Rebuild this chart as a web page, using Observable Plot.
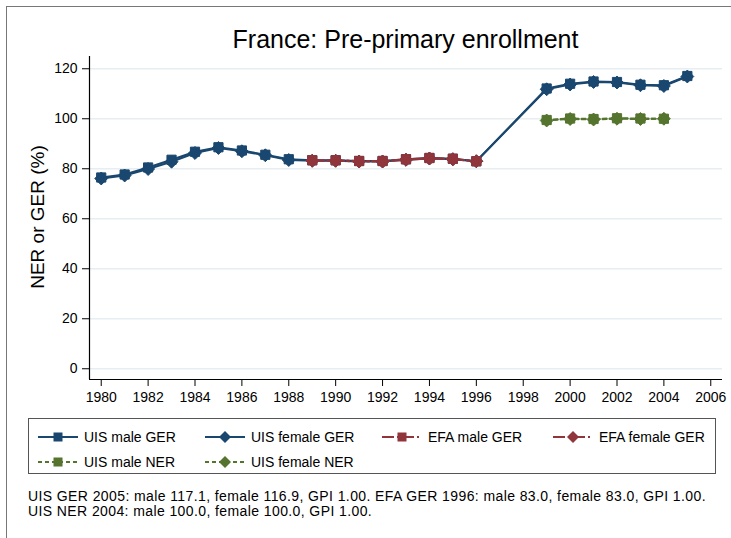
<!DOCTYPE html>
<html>
<head>
<meta charset="utf-8">
<script src="https://cdn.jsdelivr.net/npm/d3@7"></script>
<script src="https://cdn.jsdelivr.net/npm/@observablehq/plot@0.6"></script>
<style>
  html, body { margin: 0; padding: 0; background: #fff; }
  body { width: 731px; height: 538px; position: relative; overflow: hidden;
         font-family: "Liberation Sans", Arial, Helvetica, sans-serif; color: #000; }
  #frame { position: absolute; left: 6px; top: 6px; width: 800px; height: 600px;
           border-left: 1px solid #777; border-top: 1px solid #777; }
  #title { position: absolute; left: 89px; width: 633px; top: 24px; text-align: center;
           font-size: 25px; line-height: 30px; }
  #ylabel { position: absolute; left: 38px; top: 217px; transform: translate(-50%, -50%) rotate(-90deg);
            font-size: 19px; white-space: nowrap; }
  #chart { position: absolute; left: 0; top: 50px; }
  #legend { position: absolute; left: 28px; top: 418px; width: 688px; height: 56px;
            border: 1px solid #555; box-sizing: border-box; }
  .item { position: absolute; height: 16px; font-size: 14px; line-height: 16px; white-space: nowrap; }
  .item svg { position: absolute; left: 0; top: 2px; }
  .item span { position: absolute; left: 46px; top: 0; }
  #caption { position: absolute; left: 28px; top: 489px; font-size: 14px; line-height: 15px;
             letter-spacing: 0.4px; white-space: nowrap; }
</style>
</head>
<body>
<div id="frame"></div>
<div id="title">France: Pre-primary enrollment</div>
<div id="ylabel">NER or GER (%)</div>
<div id="chart"></div>
<div id="legend"></div>
<div id="caption">UIS GER 2005: male 117.1, female 116.9, GPI 1.00. EFA GER 1996: male 83.0, female 83.0, GPI 1.00.<br>UIS NER 2004: male 100.0, female 100.0, GPI 1.00.</div>
<script>
// ---- data ----
const uisYears = [1980,1981,1982,1983,1984,1985,1986,1987,1988,1989,1990,1991,1992,1993,1994,1995,1996,1999,2000,2001,2002,2003,2004,2005];
const uisMaleGER   = [76.5,77.7,80.5,83.6,86.8,88.6,87.3,85.6,83.8,83.4,83.4,83.1,83.1,83.8,84.3,84.0,83.0,112.1,114.0,114.9,114.7,113.6,113.4,117.1];
const uisFemaleGER = [76.1,77.3,79.9,82.8,86.3,88.3,87.0,85.4,83.5,83.2,83.2,82.9,82.9,83.6,84.1,83.8,83.0,111.8,113.7,114.7,114.5,113.4,113.1,116.9];
const efaYears = [1989,1990,1991,1992,1993,1994,1995,1996];
const efaMaleGER   = [83.4,83.4,83.1,83.1,83.8,84.3,84.0,83.0];
const efaFemaleGER = [83.2,83.2,82.9,82.9,83.6,84.1,83.8,83.0];
const nerYears = [1999,2000,2001,2002,2003,2004];
const uisMaleNER   = [99.5,100.1,99.9,100.2,100.1,100.0];
const uisFemaleNER = [99.3,99.9,99.7,100.0,99.9,100.0];
const xTicks = [1980,1982,1984,1986,1988,1990,1992,1994,1996,1998,2000,2002,2004,2006];
const yTicks = [0,20,40,60,80,100,120];
const seriesNames = ["UIS male GER","UIS female GER","EFA male GER","EFA female GER","UIS male NER","UIS female NER"];

// ---- styles ----
const NAVY = "#1a476f", MAROON = "#90353b", GREEN = "#55752f";
const styles = [
  {color: NAVY,   dash: null,       symbol: "square"},
  {color: NAVY,   dash: null,       symbol: "diamond2"},
  {color: MAROON, dash: "12,3,2,3", symbol: "square"},
  {color: MAROON, dash: "12,3,2,3", symbol: "diamond2"},
  {color: GREEN,  dash: "4,3",      symbol: "square"},
  {color: GREEN,  dash: "4,3",      symbol: "diamond2"}
];

const toRows = (years, vals) => years.map((y, i) => ({year: y, value: vals[i]}));
const series = [
  toRows(uisYears, uisMaleGER),
  toRows(uisYears, uisFemaleGER),
  toRows(efaYears, efaMaleGER),
  toRows(efaYears, efaFemaleGER),
  toRows(nerYears, uisMaleNER),
  toRows(nerYears, uisFemaleNER)
];

const xDom = [1979.5, 2006.5];
const yDom = [-4.3, 124.9];

const marks = [
  Plot.ruleY(yTicks, {stroke: "#e6eef2", strokeWidth: 1.5})
];
series.forEach((rows, i) => {
  const s = styles[i];
  marks.push(Plot.line(rows, {x: "year", y: "value", stroke: s.color, strokeWidth: 2,
    strokeDasharray: s.dash, curve: "linear"}));
  marks.push(Plot.dot(rows, {x: "year", y: "value", symbol: () => s.symbol, fill: s.color,
    stroke: s.color, strokeWidth: 1, r: s.symbol === "square" ? 5.2 : 5.8}));
});
marks.push(Plot.ruleX([xDom[0]], {stroke: "#000", strokeWidth: 1.2}));
marks.push(Plot.ruleY([yDom[0]], {stroke: "#000", strokeWidth: 1.2}));

const chart = Plot.plot({
  width: 731,
  height: 360,
  marginTop: 6,
  marginBottom: 31,
  marginLeft: 89,
  marginRight: 9,
  style: {fontFamily: '"Liberation Sans", Arial, sans-serif', fontSize: "14px", color: "#000", background: "transparent", overflow: "visible"},
  x: {domain: xDom, ticks: xTicks, tickFormat: d3.format("d"), tickSize: 7, tickPadding: 6, label: null},
  y: {domain: yDom, ticks: yTicks, tickFormat: d3.format("d"), tickSize: 7, tickPadding: 5, label: null},
  marks
});
document.getElementById("chart").appendChild(chart);

// ---- legend ----
const legend = document.getElementById("legend");
const cols = [9, 176, 353, 524];
const rowsY = [10, 35];
seriesNames.forEach((name, i) => {
  const s = styles[i];
  const div = document.createElement("div");
  div.className = "item";
  div.style.left = cols[i % 4] + "px";
  div.style.top = rowsY[Math.floor(i / 4)] + "px";
  const w = 40, cx = 20, cy = 6;
  let marker;
  if (s.symbol === "square") {
    marker = `<rect x="${cx-4.5}" y="${cy-4.5}" width="9" height="9" fill="${s.color}"/>`;
  } else {
    marker = `<path d="M${cx},${cy-6}L${cx+6},${cy}L${cx},${cy+6}L${cx-6},${cy}Z" fill="${s.color}"/>`;
  }
  div.innerHTML = `<svg width="${w}" height="12" style="overflow:visible"><line x1="0" x2="${w}" y1="${cy}" y2="${cy}" stroke="${s.color}" stroke-width="2" ${s.dash ? `stroke-dasharray="${s.dash}"` : ""}/>${marker}</svg><span>${name}</span>`;
  legend.appendChild(div);
});
</script>
</body>
</html>
